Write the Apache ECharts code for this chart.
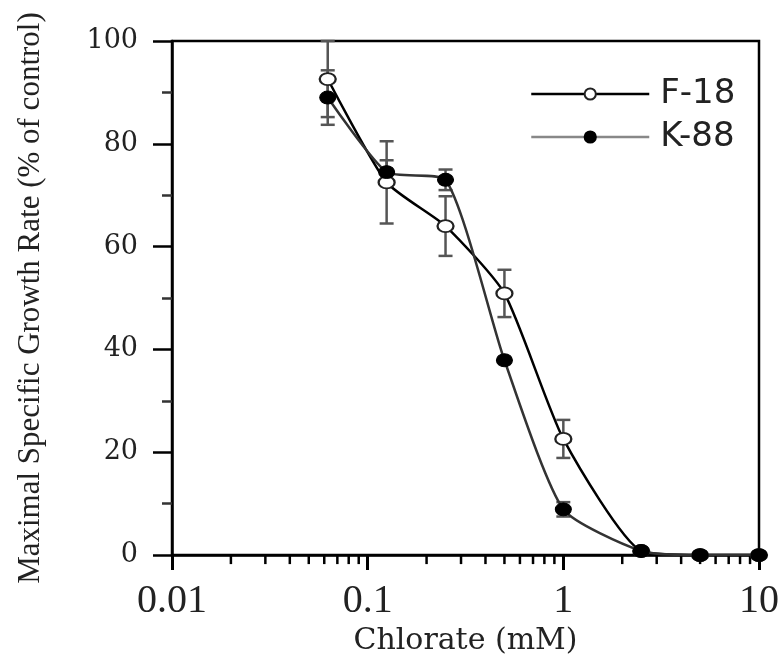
<!DOCTYPE html>
<html>
<head>
<meta charset="utf-8">
<script src="https://cdn.jsdelivr.net/npm/echarts@6/dist/echarts.min.js"></script>
<style>
html,body{margin:0;padding:0;background:#fff;}
#chart{width:782px;height:661px;}
</style>
</head>
<body>
<div id="chart"></div>
<script>
// ---- data ----
const xValues = [0.0625, 0.125, 0.25, 0.5, 1, 2.5, 5, 10];
const f18 = [92.6, 72.5, 64, 50.9, 22.6, 0.8, 0, 0];
const f18Err = [7.4, 8, 5.8, 4.6, 3.7, 0, 0, 0];
const k88 = [89, 74.5, 73, 37.9, 8.9, 0.8, 0, 0];
const k88Err = [5.3, 2.3, 2, 0, 1.4, 0, 0, 0];
const xTickLabels = ['0.01', '0.1', '1', '10'];
const xMinorMultipliers = [2, 3, 4, 5, 6, 7, 8, 9];
const xDecades = [0.01, 0.1, 1];
const yTickValues = [0, 20, 40, 60, 80, 100];

const chart = echarts.init(document.getElementById('chart'));

const minorTicks = [];
xDecades.forEach(d => xMinorMultipliers.forEach(m => minorTicks.push(d * m)));

function errData(vals, errs) {
  return xValues.map((x, i) => [x, vals[i] - errs[i], vals[i] + errs[i], errs[i]]);
}

function errRender(params, api) {
  const e = api.value(3);
  if (!e) return null;
  const lo = api.coord([api.value(0), api.value(1)]);
  const hi = api.coord([api.value(0), api.value(2)]);
  const hw = 7;
  const st = { stroke: '#555', lineWidth: 2.5 };
  return {
    type: 'group',
    children: [
      { type: 'line', shape: { x1: lo[0], y1: lo[1], x2: hi[0], y2: hi[1] }, style: st },
      { type: 'line', shape: { x1: lo[0] - hw, y1: lo[1], x2: lo[0] + hw, y2: lo[1] }, style: st },
      { type: 'line', shape: { x1: hi[0] - hw, y1: hi[1], x2: hi[0] + hw, y2: hi[1] }, style: st }
    ]
  };
}

const option = {
  animation: false,
  backgroundColor: '#fff',
  grid: { left: 172, right: 22, top: 41, bottom: 102, show: true, borderColor: '#000', borderWidth: 2.5, containLabel: false },
  legend: {
    left: 525, top: 72, orient: 'vertical',
    itemWidth: 118, itemHeight: 14, itemGap: 9,
    textStyle: { fontFamily: 'DejaVu Sans', fontSize: 34, color: '#222', padding: [0, 0, 0, 6] },
    data: [
      { name: 'F-18', lineStyle: { color: '#000', width: 2.5 } },
      { name: 'K-88', lineStyle: { color: '#888', width: 2.5 } }
    ]
  },
  xAxis: {
    type: 'log', logBase: 10, min: 0.01, max: 10,
    name: 'Chlorate (mM)', nameLocation: 'middle', nameGap: 62,
    nameTextStyle: { fontFamily: 'DejaVu Serif', fontSize: 30, color: '#222' },
    axisLine: { lineStyle: { color: '#000', width: 2.5 } },
    axisTick: { show: true, length: 15, lineStyle: { color: '#000', width: 3 } },
    axisLabel: {
      margin: 26, fontFamily: 'Liberation Serif', fontSize: 40, color: '#222',
      formatter: v => xTickLabels[Math.round(Math.log10(v)) + 2]
    },
    splitLine: { show: false }
  },
  yAxis: {
    type: 'value', min: 0, max: 100, interval: 20,
    name: 'Maximal Specific Growth Rate (% of control)', nameLocation: 'middle', nameGap: 126,
    nameTextStyle: { fontFamily: 'Liberation Serif', fontSize: 31, color: '#222' },
    axisLine: { show: true, lineStyle: { color: '#000', width: 2.5 } },
    axisTick: { show: true, length: 19, lineStyle: { color: '#000', width: 2.5 } },
    minorTick: { show: true, splitNumber: 2, length: 10, lineStyle: { color: '#333', width: 2.5 } },
    axisLabel: {
      margin: 34, fontFamily: 'DejaVu Serif', fontSize: 27, color: '#222',
      formatter: v => (yTickValues.indexOf(v) >= 0 ? String(v) : '')
    },
    splitLine: { show: false }
  },
  series: [
    { type: 'custom', name: 'errF', silent: true, z: 2, data: errData(f18, f18Err), renderItem: errRender },
    { type: 'custom', name: 'errK', silent: true, z: 2, data: errData(k88, k88Err), renderItem: errRender },
    {
      type: 'line', name: 'F-18', z: 3,
      data: xValues.map((x, i) => [x, f18[i]]),
      smooth: 0.2,
      symbol: 'circle', symbolSize: [16, 12],
      lineStyle: { color: '#000', width: 2.5 },
      itemStyle: { color: '#fff', borderColor: '#222', borderWidth: 2 }
    },
    {
      type: 'line', name: 'K-88', z: 4,
      data: xValues.map((x, i) => [x, k88[i]]),
      smooth: 0.2,
      symbol: 'circle', symbolSize: [16, 13],
      lineStyle: { color: '#333', width: 2.5 },
      itemStyle: { color: '#000', borderColor: '#000', borderWidth: 1 }
    }
  ]
};
chart.setOption(option);

// minor log ticks on the x axis, positioned through the axis scale
const py = chart.convertToPixel({ yAxisIndex: 0 }, 0);
const g = minorTicks.map(v => {
  const px = chart.convertToPixel({ xAxisIndex: 0 }, v);
  return { type: 'line', z: 1, silent: true, shape: { x1: px, y1: py, x2: px, y2: py + 9 }, style: { stroke: '#000', lineWidth: 2.5 } };
});
chart.setOption({ graphic: g });
</script>
</body>
</html>
